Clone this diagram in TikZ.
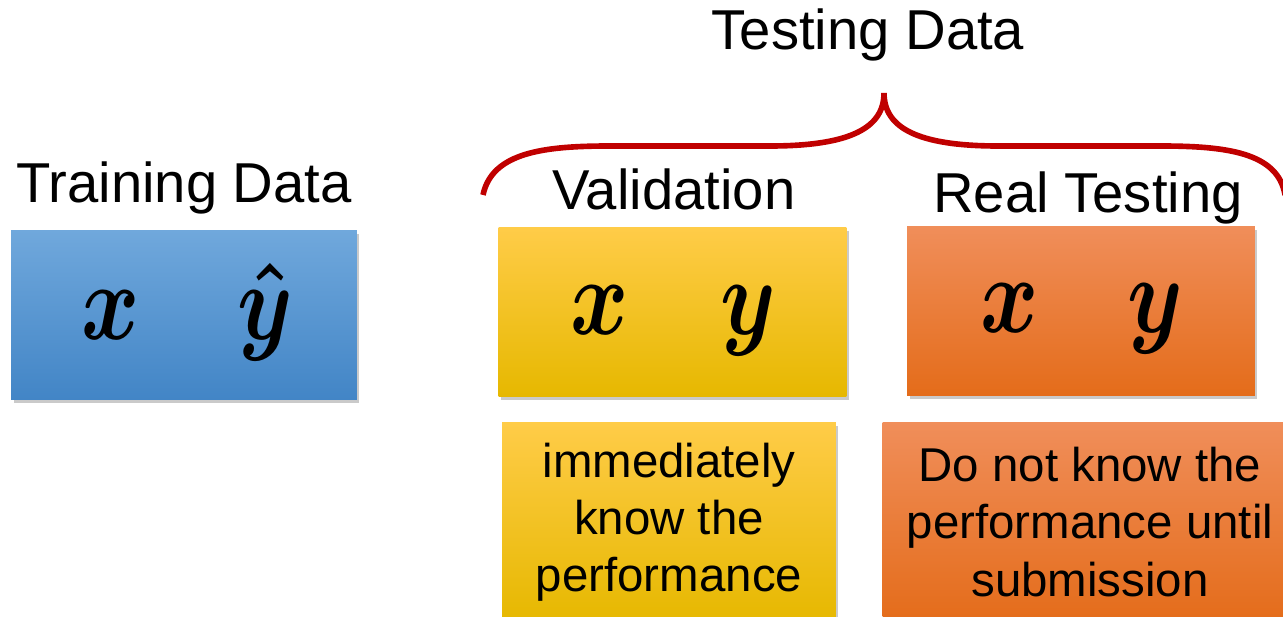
\documentclass[tikz,border=0pt]{standalone}
\usepackage{fontspec}
\setmainfont{Liberation Sans}
\usepackage{tikz}
\usetikzlibrary{shadows, positioning}
\definecolor{bluetop}{RGB}{112, 168, 220}
\definecolor{bluemid}{RGB}{91, 155, 213}
\definecolor{bluebot}{RGB}{66, 133, 198}
\definecolor{yellowtop}{RGB}{255, 204, 72}
\definecolor{yellowmid}{RGB}{255, 192, 0}
\definecolor{yellowbot}{RGB}{230, 184, 0}
\definecolor{orangetop}{RGB}{240, 142, 90}
\definecolor{orangemid}{RGB}{242, 122, 40}
\definecolor{orangebot}{RGB}{228, 108, 26}
\definecolor{bracered}{RGB}{192, 0, 0}
\tikzset{
  databox/.style={minimum width=6.96cm, minimum height=3.38cm, inner sep=0pt,
    drop shadow={shadow xshift=0.05cm, shadow yshift=-0.07cm, opacity=0.35, fill=black!60}},
  bluefill/.style={top color=bluetop, middle color=bluemid, bottom color=bluebot},
  yellowfill/.style={top color=yellowtop, middle color=yellowmid, bottom color=yellowbot},
  orangefill/.style={top color=orangetop, middle color=orangemid, bottom color=orangebot},
  notebox/.style={databox, minimum height=4cm, align=center,
    font=\fontsize{27}{32.5}\selectfont},
  heading/.style={font=\fontsize{32}{36}\selectfont, anchor=base, inner sep=0pt},
  var/.style={font=\fontsize{12}{12}\selectfont\boldmath, anchor=base, inner sep=0pt, transform shape, xscale=4.2, yscale=5.2}
}

\begin{document}
\begin{tikzpicture}[x=0.02cm, y=-0.02cm]
  \useasboundingbox (0,0) rectangle (1283,617);

  \node[databox, bluefill, minimum width=6.92cm, minimum height=3.4cm] (train) at (184,315) {};
  \node[databox, yellowfill] (valid) at (672.5,312) {};
  \node[databox, orangefill] (real) at (1081,311) {};

  \node[notebox, yellowfill, minimum width=6.68cm] (validnote) at (669,522) {immediately\\know the\\performance};
  \node[notebox, orangefill, minimum width=8.3cm] (realnote) at (1090,522) {Do not know the\\performance until\\submission};

  \node[heading] (trainlbl) at (184,203) {Training Data};
  \node[heading] (validlbl) at (674,210) {Validation};
  \node[heading] (reallbl) at (1088,213) {Real Testing};
  \node[heading] (testlbl) at (868,50) {Testing Data};

  \node[var] (trainx) at (111,340) {$x$};
  \node[var] (trainy) at (265,340) {$\hat{y}$};
  \node[var] (validx) at (600,335) {$x$};
  \node[var] (validy) at (748,335) {$y$};
  \node[var] (realx) at (1010,333) {$x$};
  \node[var] (realy) at (1155,333) {$y$};

  \coordinate (braceleft) at (483,195);
  \coordinate (bracetip) at (884,93);
  \coordinate (braceright) at (1285,195);
  \draw[bracered, line width=3.2pt] (braceleft) .. controls (492,152) and (545,146) .. (610,146)
    -- (770,146) .. controls (850,146) and (884,128) .. (bracetip)
    .. controls (884,128) and (918,146) .. (998,146)
    -- (1160,146) .. controls (1225,146) and (1278,152) .. (braceright);
\end{tikzpicture}
\end{document}
